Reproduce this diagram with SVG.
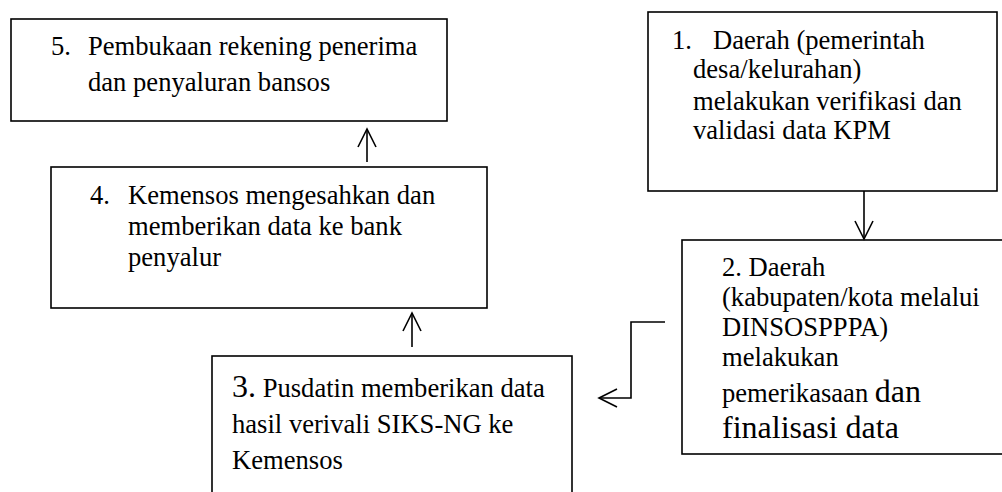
<svg xmlns="http://www.w3.org/2000/svg" width="1002" height="492" viewBox="0 0 1002 492">
<style>
.box{fill:#fff;stroke:#000;stroke-width:1.6}
.t{font-family:'Liberation Serif','Times New Roman',serif;font-size:26.6px;fill:#000}
.big{font-size:32px}
.conn{fill:none;stroke:#000;stroke-width:1.6}
</style>
<defs>
<marker id="arr" viewBox="-20 -11 22 22" refX="0" refY="0" markerWidth="22" markerHeight="22" markerUnits="userSpaceOnUse" orient="auto">
<path d="M-18 -9 L0 0 L-18 9" fill="none" stroke="#000" stroke-width="1.6"/>
</marker>
</defs>
<rect width="1002" height="492" fill="#fff"/>
<g id="node5">
<rect class="box" x="11" y="19" width="436" height="102"/>
<text class="t"><tspan x="51" y="55">5.</tspan><tspan x="88" y="55">Pembukaan rekening penerima</tspan><tspan x="88" y="91">dan penyaluran bansos</tspan></text>
</g>
<g id="node4">
<rect class="box" x="51" y="167" width="436" height="141"/>
<text class="t"><tspan x="90" y="204">4.</tspan><tspan x="128" y="204">Kemensos mengesahkan dan</tspan><tspan x="128" y="235">memberikan data ke bank</tspan><tspan x="128" y="266">penyalur</tspan></text>
</g>
<g id="node1">
<rect class="box" x="648" y="12" width="349" height="179"/>
<text class="t"><tspan x="672" y="49">1.</tspan><tspan x="713" y="49">Daerah (pemerintah</tspan><tspan x="693" y="78">desa/kelurahan)</tspan><tspan x="693" y="110">melakukan verifikasi dan</tspan><tspan x="693" y="139">validasi data KPM</tspan></text>
</g>
<g id="node2">
<rect class="box" x="682" y="240" width="330" height="214"/>
<text class="t"><tspan x="722" y="276">2. Daerah</tspan><tspan x="722" y="306">(kabupaten/kota melalui</tspan><tspan x="722" y="336">DINSOSPPPA)</tspan><tspan x="722" y="366">melakukan</tspan><tspan x="722" y="402">pemerikasaan <tspan class="big">dan</tspan></tspan><tspan x="722" y="438" class="big">finalisasi data</tspan></text>
</g>
<g id="node3">
<rect class="box" x="212" y="356" width="360" height="150"/>
<text class="t"><tspan x="232" y="397"><tspan class="big">3.</tspan> Pusdatin memberikan data</tspan><tspan x="232" y="433">hasil verivali SIKS-NG ke</tspan><tspan x="232" y="469">Kemensos</tspan></text>
</g>
<g id="connectors">
<path class="conn" d="M864 191 V239" marker-end="url(#arr)"/>
<path class="conn" d="M665 322 H631 V398 H599" marker-end="url(#arr)"/>
<path class="conn" d="M412 347 V313" marker-end="url(#arr)"/>
<path class="conn" d="M367 162 V129" marker-end="url(#arr)"/>
</g>
</svg>
